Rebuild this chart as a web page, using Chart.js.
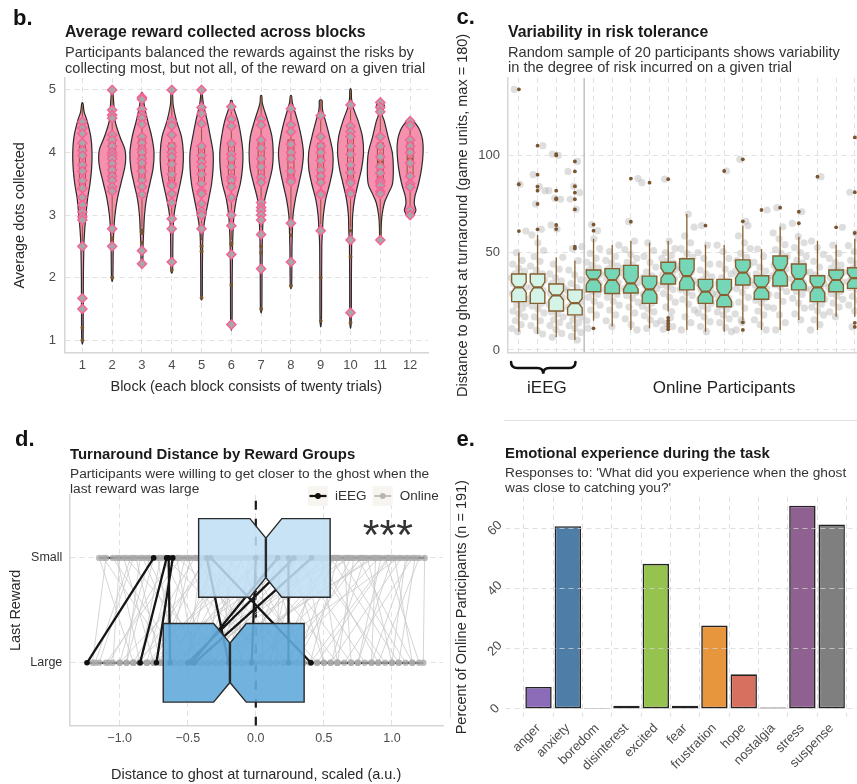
<!DOCTYPE html>
<html><head><meta charset="utf-8">
<script src="https://cdn.jsdelivr.net/npm/chart.js@4.4.1/dist/chart.umd.min.js"></script>
<style>
html,body{margin:0;padding:0;background:#fff;}
body{width:857px;height:784px;overflow:hidden;position:relative;font-family:"Liberation Sans",Arial,Helvetica,sans-serif;}
canvas{position:absolute;}
.t{position:absolute;white-space:nowrap;}
.lt{font-weight:bold;font-size:22px;line-height:22px;color:#111;}
.ti{font-weight:bold;font-size:15.8px;line-height:18px;color:#1a1a1a;}
.st{font-size:14.6px;line-height:15.7px;color:#333;}
.ti2{font-weight:bold;font-size:14.9px;line-height:18px;color:#1a1a1a;}
.st2{font-size:13.7px;line-height:15.2px;color:#333;}
</style></head><body>
<canvas id="cb" width="440" height="400" style="left:0;top:0"></canvas>
<canvas id="cc" width="420" height="400" style="left:450px;top:0"></canvas>
<canvas id="cd" width="450" height="364" style="left:0;top:420px"></canvas>
<canvas id="ce" width="425" height="364" style="left:450px;top:420px"></canvas>

<div class="t lt" style="left:13px;top:7.4px">b.</div>
<div class="t ti" style="left:65px;top:23.2px">Average reward collected across blocks</div>
<div class="t st" style="left:65px;top:45.2px">Participants balanced the rewards against the risks by<br>collecting most, but not all, of the reward on a given trial</div>

<div class="t lt" style="left:456.5px;top:6.4px">c.</div>
<div class="t ti" style="left:508px;top:23.2px">Variability in risk tolerance</div>
<div class="t st" style="left:508px;top:44.6px">Random sample of 20 participants shows variability<br>in the degree of risk incurred on a given trial</div>

<div class="t lt" style="left:15px;top:428.1px">d.</div>
<div class="t ti2" style="left:70px;top:444.8px">Turnaround Distance by Reward Groups</div>
<div class="t st2" style="left:70px;top:466px">Participants were willing to get closer to the ghost when the<br>last reward was large</div>

<div class="t lt" style="left:456.5px;top:428.1px">e.</div>
<div class="t ti2" style="left:505px;top:443.5px">Emotional experience during the task</div>
<div class="t st2" style="left:505px;top:465px">Responses to: 'What did you experience when the ghost<br>was close to catching you?'</div>

<script>
// ======================= DATA =======================
// ---- Panel b: average dots collected per block ----
const B_BLOCKS = [1,2,3,4,5,6,7,8,9,10,11,12];
const B_YTICKS = [1,2,3,4,5];
const B_Q1  = [3.45,3.55,3.55,3.55,3.5,3.5,3.55,3.6,3.55,3.55,3.5,3.6];
const B_MED = [3.83,3.9,3.95,3.87,3.83,3.87,3.93,3.96,3.9,4.0,3.85,3.9];
const B_Q3  = [4.1,4.15,4.2,4.15,4.1,4.15,4.2,4.2,4.15,4.25,4.15,4.15];
const B_LO  = [2.5,2.8,2.8,2.75,2.6,2.6,2.8,2.75,2.85,2.8,2.6,3.0];
const B_HI  = [4.75,5.0,4.95,5.0,5.0,4.83,4.9,4.9,4.83,5.0,4.8,4.5];
const B_OUT = [[1.2,1.0],[2.63,2.58,2.0],[2.76,2.71,2.56],[2.12],[2.5,2.42,1.68],[2.55,2.52,1.88],
               [2.5,2.4,1.5],[2.68,1.87],[2.8,2.0,1.31],[2.75,2.33,1.28],[],[]];
const B_POINTS = [
  [4.49,4.39,4.3,4.15,4.03,3.95,3.8,3.7,3.55,3.43,3.28,3.16,3.05,2.97,2.92,2.5,1.67,1.5],
  [5.0,4.68,4.6,4.55,4.28,4.2,4.1,4.0,3.95,3.9,3.82,3.72,3.62,3.55,3.45,3.38,2.78,2.5],
  [4.88,4.85,4.69,4.6,4.55,4.45,4.25,4.15,4.05,4.0,3.9,3.83,3.7,3.55,3.45,3.33,2.43,2.22],
  [5.0,4.5,4.43,4.28,4.1,4.0,3.93,3.81,3.65,3.5,3.47,3.34,3.2,2.94,2.78,2.25],
  [5.0,4.72,4.62,4.46,4.1,3.95,3.85,3.77,3.65,3.5,3.38,3.34,3.18,3.06,3.0,2.78],
  [4.73,4.53,4.42,4.14,3.97,3.9,3.77,3.6,3.55,3.45,3.28,3.0,2.83,2.37,1.25],
  [4.53,4.44,4.2,4.07,3.9,3.77,3.6,3.52,3.2,3.12,3.07,3.0,2.92,2.69,2.14],
  [4.7,4.44,4.33,4.13,4.0,3.9,3.7,3.57,3.53,2.87,2.25],
  [4.59,4.25,4.1,4.0,3.87,3.72,3.62,3.52,3.35,3.33,2.75],
  [4.76,4.42,4.33,4.25,4.1,3.97,3.8,3.68,3.55,3.51,3.38,3.34,2.6,1.44],
  [4.8,4.72,4.65,4.25,4.1,3.93,3.77,3.67,3.55,3.52,3.47,3.38,3.34,2.6],
  [4.5,4.43,4.2,4.1,4.0,3.83,3.62,3.5,3.45,3.08,3.0]
];
// violin density profiles: [value, relative density]
const B_VIOLIN = [
  [[1.0,0.02],[1.5,0.035],[2.0,0.045],[2.5,0.08],[2.75,0.14],[3.0,0.24],[3.25,0.35],[3.5,0.54],[3.75,0.66],[4.0,0.69],[4.25,0.6],[4.5,0.33],[4.65,0.1],[4.78,0.02]],
  [[2.0,0.02],[2.5,0.05],[2.75,0.09],[3.0,0.18],[3.25,0.35],[3.5,0.62],[3.75,0.9],[3.9,0.98],[4.05,0.92],[4.25,0.55],[4.5,0.19],[4.75,0.1],[4.9,0.05],[5.0,0.02]],
  [[2.22,0.03],[2.5,0.05],[2.75,0.1],[3.0,0.16],[3.25,0.3],[3.5,0.56],[3.75,0.8],[4.0,0.87],[4.25,0.7],[4.5,0.4],[4.7,0.19],[4.85,0.08],[4.95,0.02]],
  [[2.12,0.03],[2.5,0.05],[2.75,0.07],[3.0,0.14],[3.25,0.34],[3.5,0.6],[3.75,0.8],[4.0,0.83],[4.25,0.7],[4.5,0.33],[4.75,0.08],[4.9,0.04],[5.0,0.02]],
  [[1.68,0.02],[2.0,0.03],[2.5,0.05],[2.75,0.1],[3.0,0.27],[3.25,0.5],[3.5,0.72],[3.75,0.83],[4.0,0.83],[4.25,0.63],[4.5,0.4],[4.75,0.13],[4.9,0.04],[5.0,0.02]],
  [[1.25,0.02],[2.0,0.035],[2.5,0.06],[2.75,0.1],[3.0,0.17],[3.25,0.34],[3.5,0.64],[3.75,0.8],[4.0,0.83],[4.25,0.7],[4.5,0.47],[4.7,0.17],[4.8,0.05],[4.83,0.02]],
  [[1.5,0.02],[2.0,0.035],[2.5,0.05],[2.75,0.08],[3.0,0.13],[3.25,0.24],[3.5,0.53],[3.75,0.8],[4.0,0.87],[4.25,0.78],[4.5,0.47],[4.7,0.17],[4.8,0.05],[4.9,0.02]],
  [[1.87,0.02],[2.25,0.04],[2.5,0.05],[2.75,0.08],[3.0,0.13],[3.25,0.3],[3.5,0.56],[3.75,0.8],[4.0,0.9],[4.25,0.74],[4.5,0.47],[4.7,0.2],[4.8,0.07],[4.9,0.02]],
  [[1.3,0.02],[2.0,0.035],[2.5,0.05],[2.75,0.1],[3.0,0.17],[3.25,0.34],[3.5,0.64],[3.75,0.87],[4.0,0.87],[4.25,0.63],[4.5,0.33],[4.65,0.13],[4.75,0.08],[4.83,0.07]],
  [[1.28,0.02],[2.0,0.035],[2.5,0.05],[2.75,0.1],[3.0,0.13],[3.25,0.27],[3.5,0.53],[3.75,0.8],[4.0,0.94],[4.25,0.86],[4.5,0.54],[4.7,0.2],[4.85,0.05],[5.0,0.02]],
  [[2.6,0.02],[2.8,0.035],[3.0,0.1],[3.2,0.28],[3.35,0.58],[3.5,0.88],[3.75,0.94],[4.0,0.86],[4.25,0.55],[4.5,0.27],[4.6,0.11],[4.68,0.18],[4.75,0.27],[4.8,0.1]],
  [[2.99,0.05],[3.02,0.28],[3.08,0.4],[3.18,0.28],[3.3,0.33],[3.5,0.6],[3.75,0.83],[4.0,0.94],[4.2,0.9],[4.35,0.7],[4.45,0.43],[4.52,0.1]]
];
const B_XTITLE = 'Block (each block consists of twenty trials)';
const B_YTITLE = 'Average dots collected';

// ---- Panel c: turnaround distance for sampled participants ----
const C_PART = [1,2,3,4,5,6,7,8,9,10,11,12,13,14,15,16,17,18,19];
const C_YTICKS = [0,50,100];
const C_GROUP_NAMES = ['iEEG','Online Participants'];
const C_GROUP_FROM = [1,5];
const C_GROUP_TO = [4,19];
const C_Q1  = [24.8,23.9,20,18,29.9,29,29.2,23.9,33.8,30.8,23.9,22.2,33.3,26,32.8,30.8,24.8,29.9,31.6];
const C_MED = [32.1,32.1,28,24,36.2,35.9,34.2,31.1,39.3,37.9,29.9,28.2,39.7,32.1,41,36.4,32.1,35.9,36.8];
const C_Q3  = [39,39,33.8,30.8,41,41.7,43.4,37.9,45,46.8,36.2,36.2,46.2,38.1,48.2,44.1,38.1,41,42.2];
const C_LO  = [9.4,8.2,6.5,5.1,15,12,10.3,11.1,19.7,10.3,9.4,9.4,15.4,10.3,10.3,15.4,10.3,17.1,17];
const C_HI  = [49.9,59,47.5,45.8,57,53.8,55.9,55,55.9,69.7,53.8,53.8,63.8,51.8,63.2,58.1,55.9,53.8,57];
const C_NOTCH = [2.6,2.7,2.4,2.4,2.6,2.8,3.0,2.8,2.6,3.2,2.8,3.0,2.9,2.6,3.2,2.9,2.8,2.6,2.6];
const C_OUT = [
  [61,85,133.7],[61.9,74.9,81.7,83.8,89.9,104.8],[62,64.1,77.3,77.8,81.7,99.8,100.5],[52.1,53,72.1,77.3,80.7,84,91.6,96.7],
  [11.1,61.2,64.3],[],[65.8,87.9],[85.8],[10.6,12,13.5,15,16.5,87.6],[],[63.8],[91.8],[14.2,10.3,66,97.8],
  [71.8],[73],[65,70.9],[88.9],[62.9],[11.8,13.9,60,80.9,109]
];
const C_VALUES = [
  [9.4,11,13,15,17,18.5,20,21.5,23,24,25,26,27,28,29,30,31,32,33,34,35,36,37,38,39,40.5,42,44,46,49.9],
  [8.2,10,12.5,15,17,19,21,22.5,24,25,26.5,28,29,30.5,31.5,32.5,33.5,35,36,37,38,39,41,43,45.5,48,51,55,59],
  [6.5,8.5,10.5,12.5,14,15.5,17,18.5,19.5,21,22,23.5,25,26,27,28,29,30,31,32,33,34,35.5,37,39,41.5,44,47.5],
  [5.1,7,9,11,12.5,14,15.5,17,18,19,20,21,22,23,24,25,26,27,28,29.5,30.5,32,34,36,38.5,41,45.8],
  [15,18,20.5,23,25,27,28.5,30,31,32,33,34,35,36,37,38,39,40,41,42,43.5,45,47,49.5,52,57],
  [12,15,18,20.5,23,25,27,28.5,30,31,32,33.5,34.5,35.5,36.5,37.5,38.5,39.5,40.5,41.5,43,44.5,46,48,50.5,53.8],
  [10.3,13,16,19,22,24.5,26.5,28,29.5,30.5,31.5,32.5,33.5,34.5,36,37.5,39,40.5,42,43.5,45,47,49,51.5,55.9],
  [11.1,13.5,15.5,17.5,19.5,21,22.5,24,25,26.5,27.5,28.5,29.5,30.5,31.5,32.5,33.5,34.5,35.5,37,38,40,42.5,45,48,51,55],
  [19.7,22,24.5,27,29,31,32.5,33.5,34.5,35.5,36.5,37.5,38.5,39.5,40.5,41.5,42.5,43.5,44.5,45.5,47,48.5,50,52,55.9],
  [10.3,14,17,20.5,23.5,26,28,29.5,31,32.5,34,35.5,37,38.5,40,41.5,43,44.5,46,47.5,49.5,52,55,58.5,63,69.7],
  [9.4,12,14.5,17,19,21,22.5,24,25,26,27,28,29,30,31,32,33,34,35,36,37.5,39,41,44,47,50,53.8],
  [9.4,11.5,14,16,18,19.5,21,22.5,23.5,24.5,25.5,26.5,27.5,28.5,29.5,30.5,31.5,33,34,35.5,37,39,41.5,44,47,50.5,53.8],
  [15.4,18.5,21.5,24.5,27,29.5,31.5,33,34.5,35.5,36.5,37.5,38.5,39.5,40.5,41.5,42.5,43.5,45,46,47.5,49.5,52,55,58.5,63.8],
  [10.3,13,15.5,18,20,22,24,25.5,26.5,27.5,28.5,29.5,30.5,31.5,32.5,33.5,34.5,35.5,36.5,37.5,39,40.5,42.5,45,48,51.8],
  [10.3,14,18,21.5,25,28,30,32,33.5,35,36.5,38,39.5,40.5,41.5,42.5,43.5,45,46.5,48,49.5,51.5,54,57,60,63.2],
  [15.4,18.5,21.5,24,26.5,28.5,30,31.5,32.5,33.5,34.5,35.5,36.5,37.5,38.5,40,41.5,43,44.5,46,48,50,52.5,55,58.1],
  [10.3,13,15.5,18,20,22,23.5,25,26,27,28,29,30,31,32,33,34,35,36,37,38.5,40,42.5,45.5,49,52.5,55.9],
  [17.1,19.5,22,24,26,27.5,29,30,31,32,33,34,35,36,37,38,39,40,41,42,43.5,45,47,49.5,53.8],
  [17,20,23,25.5,27.5,29.5,31,32,33,34,35,36,37,38,39,40,41,42,43,44.5,46,48,50.5,53.5,57]
];
const C_YTITLE = 'Distance to ghost at turnaround (game units, max = 180)';

// ---- Panel d: turnaround distance by last reward ----
const D_YTICKS = [1,2];
const D_YLABELS = ['Large','Small'];
const D_XTICKS = [-1,-0.5,0,0.5,1];
const D_XLABELS = ['\u22121.0','\u22120.5','0.0','0.5','1.0'];
const D_GROUP_Y = [2,1];           // Small, Large
const D_Q1 = [-0.42,-0.68];
const D_MED = [0.074,-0.19];
const D_Q3 = [0.546,0.355];
const D_NOTCH = [0.117,0.12];
const D_LO = [-1.15,-1.24];
const D_HI = [1.24,1.23];
const D_ON_SMALL = [-1.15,-1.1,-1.05,-1.0,-0.95,-0.9,-0.88,-0.85,-0.8,-0.78,-0.72,-0.7,-0.66,-0.6,-0.58,-0.55,-0.5,-0.48,-0.45,-0.42,
  -0.4,-0.38,-0.35,-0.3,-0.28,-0.25,-0.22,-0.2,-0.18,-0.15,-0.12,-0.1,-0.08,-0.05,-0.02,0.0,0.02,0.05,0.07,0.08,
  0.1,0.12,0.15,0.18,0.2,0.22,0.25,0.28,0.3,0.33,0.35,0.38,0.4,0.43,0.45,0.48,0.5,0.53,0.55,0.58,
  0.6,0.65,0.68,0.7,0.75,0.78,0.8,0.85,0.88,0.9,0.95,0.98,1.0,1.05,1.1,1.15,1.2,1.24,
  -1.12,-1.02,-0.92,-0.83,-0.75,-0.68,-0.62,-0.52,-0.44,-0.36,-0.32,-0.26,-0.16,-0.06,0.03,0.09,0.14,0.21,0.27,0.32,
  0.37,0.42,0.47,0.52,0.57,0.62,0.67,0.72,0.77,0.82,0.87,0.92,0.97,1.02,1.07,1.12,1.17,-0.97,-0.57,0.6];
const D_ON_LARGE = [-0.9,-1.2,-0.55,-1.05,-0.3,-1.15,-0.7,-0.95,-0.4,-1.0,-0.6,-0.85,0.1,-0.8,-0.45,-1.1,-0.2,-0.65,-0.9,0.3,
  -0.5,-0.75,-0.1,-0.6,-1.0,-0.35,0.45,-0.7,-0.25,-0.55,0.2,-0.4,-0.8,-0.15,0.6,-0.3,-0.62,0.05,-0.45,-0.9,
  0.35,-0.2,-0.5,0.15,-0.75,-0.05,0.5,-0.35,0.8,-0.6,0.1,-0.15,0.95,-0.4,0.25,0.6,-0.25,0.15,1.05,-0.1,
  0.4,0.7,-0.5,0.3,1.15,0.0,0.55,-0.3,0.85,0.2,1.2,0.45,0.75,-0.05,1.0,0.65,0.9,1.23,
  -0.6,-0.85,-1.18,-0.5,-0.95,-0.3,-1.08,-0.7,0.05,-0.85,-0.5,-0.1,-0.65,0.35,-0.55,-0.25,0.7,-0.4,0.1,-0.8,
  0.5,-0.2,0.9,-0.45,0.3,1.1,-0.15,0.6,0.2,1.0,-0.35,0.75,0.4,1.15,0.55,0.85,1.05,-0.75,0.25,-0.65];
const D_IEEG_SMALL = [-0.75,-0.655,-0.61,-0.64,-0.36,0.0,0.16,0.41,0.28,0.24,-0.33];
const D_IEEG_LARGE = [-1.24,-0.85,-0.73,-0.63,-0.2,-0.03,-0.47,-0.45,-0.5,0.24,0.405];
const D_LEGEND = ['iEEG','Online'];
const D_STARS = '***';
const D_XTITLE = 'Distance to ghost at turnaround, scaled (a.u.)';
const D_YTITLE = 'Last Reward';

// ---- Panel e: emotions ----
const E_EMOTIONS = ['anger','anxiety','boredom','disinterest','excited','fear','frustration','hope','nostalgia','stress','suspense'];
const E_PERCENT = [7.3,60.7,0.3,1.05,48.2,1.05,27.7,11.5,0.52,67.5,61.3];
const E_YTICKS = [0,20,40,60];
const E_YTITLE = 'Percent of Online Participants (n = 191)';

// ======================= STYLE HELPERS =======================
const FONT = '"Liberation Sans", Arial, Helvetica, sans-serif';
Chart.defaults.font.family = FONT;
Chart.defaults.animation = false;
const TICKC = '#4d4d4d', TITLEC = '#2a2a2a';
const grid = (extra) => Object.assign({color:'#e1e1e1', lineWidth:1, drawTicks:false}, extra||{});
const border = () => ({display:true, color:'#d6d6d6', width:1.5, dash:[5,4]});
const setTicks = (vals) => (s) => { s.ticks = vals.map(v => ({value:v})); };
const axTitle = (text, pad) => ({display:true, text, color:TITLEC, font:{family:FONT, size:14.5}, padding:pad});
const baseOpts = () => ({responsive:false, animation:false, events:[], plugins:{legend:{display:false}, tooltip:{enabled:false}}});

function catmullClosed(ctx, pts){
  const n = pts.length;
  ctx.moveTo(pts[0][0], pts[0][1]);
  for (let i=0;i<n;i++){
    const p0=pts[(i-1+n)%n], p1=pts[i], p2=pts[(i+1)%n], p3=pts[(i+2)%n];
    ctx.bezierCurveTo(p1[0]+(p2[0]-p0[0])/6, p1[1]+(p2[1]-p0[1])/6,
                      p2[0]-(p3[0]-p1[0])/6, p2[1]-(p3[1]-p1[1])/6, p2[0], p2[1]);
  }
  ctx.closePath();
}

// ======================= PANEL B =======================
const bPlugin = {
  id:'violins',
  beforeDatasetsDraw(chart){
    const {ctx, chartArea:a, scales:{x, y}} = chart;
    const unit = x.getPixelForValue(2) - x.getPixelForValue(1);
    ctx.save();
    ctx.beginPath(); ctx.rect(a.left, a.top, a.width, a.height); ctx.clip();
    B_BLOCKS.forEach((b, k) => {
      const cx = x.getPixelForValue(b);
      const prof = B_VIOLIN[k];
      const right = prof.map(([v,w]) => [cx + w*0.45*unit + 0.4, y.getPixelForValue(v)]);
      const left = prof.slice().reverse().map(([v,w]) => [cx - w*0.45*unit - 0.4, y.getPixelForValue(v)]);
      ctx.beginPath();
      catmullClosed(ctx, right.concat(left));
      ctx.fillStyle = '#f590ae'; ctx.fill();
      ctx.lineWidth = 1.2; ctx.strokeStyle = '#2b2b2b'; ctx.stroke();
      const bw = 0.1*unit;
      const yq1 = y.getPixelForValue(B_Q1[k]), yq3 = y.getPixelForValue(B_Q3[k]), ym = y.getPixelForValue(B_MED[k]);
      ctx.strokeStyle = '#8a5a2e'; ctx.lineWidth = 1;
      ctx.beginPath();
      ctx.moveTo(cx, yq1); ctx.lineTo(cx, y.getPixelForValue(B_LO[k]));
      ctx.moveTo(cx, yq3); ctx.lineTo(cx, y.getPixelForValue(B_HI[k]));
      ctx.stroke();
      ctx.strokeRect(cx-bw, yq3, 2*bw, yq1-yq3);
      ctx.lineWidth = 2; ctx.beginPath(); ctx.moveTo(cx-bw, ym); ctx.lineTo(cx+bw, ym); ctx.stroke();
    });
    ctx.restore();
  }
};
const bDiamonds = [], bOut = [];
B_BLOCKS.forEach((b,k) => {
  B_POINTS[k].forEach(v => bDiamonds.push({x:b, y:v}));
  B_OUT[k].forEach(v => bOut.push({x:b, y:v}));
});
new Chart(document.getElementById('cb'), {
  type:'scatter',
  data:{datasets:[
    {data:bDiamonds, pointStyle:'rectRot', pointRadius:4.6, backgroundColor:'#a8a8a8', borderColor:'#fa5f96', borderWidth:1.4},
    {data:bOut, pointRadius:1.9, backgroundColor:'#7a5530', borderWidth:0}
  ]},
  options:Object.assign(baseOpts(), {
    layout:{padding:{left:6, right:12, top:78, bottom:0}},
    scales:{
      x:{type:'linear', min:0.4, max:12.6, afterBuildTicks:setTicks(B_BLOCKS), afterFit:s=>{s.height=47.3;},
         grid:grid(), border:border(),
         ticks:{padding:4.5, color:TICKC, font:{size:13}, autoSkip:false, maxRotation:0, callback:v=>String(v)},
         title:axTitle(B_XTITLE, {top:0, bottom:4.6})},
      y:{type:'linear', min:0.8, max:5.19, afterBuildTicks:setTicks(B_YTICKS), afterFit:s=>{s.width=58.5;},
         grid:grid(), border:border(),
         ticks:{padding:8.5, color:TICKC, font:{size:13}, callback:v=>String(v)},
         title:axTitle(B_YTITLE, {top:5.3, bottom:0})}
    }
  }),
  plugins:[bPlugin]
});

// ======================= PANEL C =======================
function notchedV(ctx, x, y, cx, hw, q1, med, q3, notch){
  const X0=x.getPixelForValue(cx-hw), X1=x.getPixelForValue(cx+hw);
  const M0=x.getPixelForValue(cx-hw/2), M1=x.getPixelForValue(cx+hw/2);
  const Y1=y.getPixelForValue(q1), Y3=y.getPixelForValue(q3), Ym=y.getPixelForValue(med);
  const Na=y.getPixelForValue(med+notch), Nb=y.getPixelForValue(med-notch);
  ctx.beginPath();
  ctx.moveTo(X0,Y3); ctx.lineTo(X1,Y3); ctx.lineTo(X1,Na); ctx.lineTo(M1,Ym); ctx.lineTo(X1,Nb);
  ctx.lineTo(X1,Y1); ctx.lineTo(X0,Y1); ctx.lineTo(X0,Nb); ctx.lineTo(M0,Ym); ctx.lineTo(X0,Na); ctx.closePath();
  return [M0, M1, Ym];
}
const cPlugin = {
  id:'cboxes',
  afterDatasetDraw(chart, args){
    if (args.index !== 1) return;
    const {ctx, chartArea:a, scales:{x, y}} = chart;
    ctx.save();
    ctx.beginPath(); ctx.rect(a.left, a.top, a.width, a.height); ctx.clip();
    const sx = x.getPixelForValue((C_GROUP_TO[0] + C_GROUP_FROM[1]) / 2);
    ctx.strokeStyle = '#c4c4c4'; ctx.lineWidth = 1.6;
    ctx.beginPath(); ctx.moveTo(sx, a.top); ctx.lineTo(sx, a.bottom); ctx.stroke();
    C_PART.forEach((p, i) => {
      const cx = x.getPixelForValue(p);
      ctx.strokeStyle = '#86602f'; ctx.lineWidth = 1.3;
      ctx.beginPath();
      ctx.moveTo(cx, y.getPixelForValue(C_Q3[i])); ctx.lineTo(cx, y.getPixelForValue(C_HI[i]));
      ctx.moveTo(cx, y.getPixelForValue(C_Q1[i])); ctx.lineTo(cx, y.getPixelForValue(C_LO[i]));
      ctx.stroke();
      const m = notchedV(ctx, x, y, p, 0.39, C_Q1[i], C_MED[i], C_Q3[i], C_NOTCH[i]);
      ctx.fillStyle = p <= C_GROUP_TO[0] ? '#d4f4e7' : '#76d6b8';
      ctx.fill(); ctx.lineWidth = 1.4; ctx.stroke();
      ctx.lineWidth = 2.2; ctx.beginPath(); ctx.moveTo(m[0], m[2]); ctx.lineTo(m[1], m[2]); ctx.stroke();
    });
    ctx.restore();
  },
  afterDraw(chart){
    const {ctx, chartArea:a, scales:{x}} = chart;
    ctx.save();
    const x0 = x.getPixelForValue(C_GROUP_FROM[0] - 0.42), x1 = x.getPixelForValue(C_GROUP_TO[0] + 0.03);
    const xm = (x0 + x1) / 2, yt = a.bottom + 9.3, yb = a.bottom + 15.3, yp = a.bottom + 21, r = 6;
    ctx.strokeStyle = '#111'; ctx.lineWidth = 2.6; ctx.lineCap = 'round';
    ctx.beginPath();
    ctx.moveTo(x0, yt); ctx.quadraticCurveTo(x0, yb, x0 + r, yb); ctx.lineTo(xm - r, yb);
    ctx.quadraticCurveTo(xm, yb, xm, yp); ctx.quadraticCurveTo(xm, yb, xm + r, yb);
    ctx.lineTo(x1 - r, yb); ctx.quadraticCurveTo(x1, yb, x1, yt);
    ctx.stroke();
    ctx.fillStyle = '#1e1e1e'; ctx.font = '17px ' + FONT; ctx.textAlign = 'center'; ctx.textBaseline = 'middle';
    C_GROUP_NAMES.forEach((n, i) => {
      ctx.fillText(n, x.getPixelForValue((C_GROUP_FROM[i] + C_GROUP_TO[i]) / 2), a.bottom + 35.6);
    });
    ctx.restore();
  }
};
const cOut = [], cGray = [];
const jit = (p, i) => ((((i * 0.6180339) + p * 0.4142) % 1) - 0.5) * 0.82;
C_PART.forEach((p, k) => {
  C_OUT[k].forEach(v => cOut.push({x:p, y:v}));
  C_VALUES[k].concat(C_OUT[k]).forEach((v, i) => cGray.push({x:p + jit(p, i), y:v}));
});
new Chart(document.getElementById('cc'), {
  type:'scatter',
  data:{datasets:[
    {data:cOut, pointRadius:1.9, backgroundColor:'#7a5530', borderWidth:0},
    {data:cGray, pointRadius:3.6, backgroundColor:'rgba(190,190,190,0.5)', borderWidth:0}
  ]},
  options:Object.assign(baseOpts(), {
    layout:{padding:{left:0, right:2.25, top:78, bottom:0}},
    scales:{
      x:{type:'linear', min:0.4, max:19.6, afterBuildTicks:setTicks(C_PART), afterFit:s=>{s.height=47.3;},
         grid:grid(), border:border(), ticks:{display:false}},
      y:{type:'linear', min:-1.4, max:139.5, afterBuildTicks:setTicks(C_YTICKS), afterFit:s=>{s.width=57.7;},
         grid:grid(), border:border(),
         ticks:{padding:7.7, color:TICKC, font:{size:13}, callback:v=>String(v)},
         title:axTitle(C_YTITLE, {top:4.3, bottom:0})}
    }
  }),
  plugins:[cPlugin]
});

// ======================= PANEL D =======================
function notchedH(ctx, x, y, cy, hh, q1, med, q3, notch){
  const Y0=y.getPixelForValue(cy+hh), Y1=y.getPixelForValue(cy-hh);
  const M0=y.getPixelForValue(cy+hh/2), M1=y.getPixelForValue(cy-hh/2);
  const X1=x.getPixelForValue(q1), X3=x.getPixelForValue(q3), Xm=x.getPixelForValue(med);
  const Na=x.getPixelForValue(med-notch), Nb=x.getPixelForValue(med+notch);
  ctx.beginPath();
  ctx.moveTo(X1,Y0); ctx.lineTo(Na,Y0); ctx.lineTo(Xm,M0); ctx.lineTo(Nb,Y0); ctx.lineTo(X3,Y0);
  ctx.lineTo(X3,Y1); ctx.lineTo(Nb,Y1); ctx.lineTo(Xm,M1); ctx.lineTo(Na,Y1); ctx.lineTo(X1,Y1); ctx.closePath();
  return [Xm, M0, M1];
}
const dPlugin = {
  id:'dboxes',
  beforeDatasetsDraw(chart){
    const {ctx, chartArea:a, scales:{x, y}} = chart;
    ctx.save();
    ctx.beginPath(); ctx.rect(a.left, a.top, a.width, a.height); ctx.clip();
    const zx = x.getPixelForValue(0);
    ctx.strokeStyle = '#1a1a1a'; ctx.lineWidth = 2.2; ctx.setLineDash([9,9]);
    ctx.beginPath(); ctx.moveTo(zx, a.bottom); ctx.lineTo(zx, a.top); ctx.stroke();
    ctx.setLineDash([]);
    D_GROUP_Y.forEach((gy, i) => {
      const py = y.getPixelForValue(gy);
      ctx.strokeStyle = '#1f1f1f'; ctx.lineWidth = 2.3;
      ctx.beginPath(); ctx.moveTo(x.getPixelForValue(D_LO[i]), py); ctx.lineTo(x.getPixelForValue(D_HI[i]), py); ctx.stroke();
    });
    ctx.restore();
  },
  afterDatasetsDraw(chart){
    const {ctx, scales:{x, y}} = chart;
    ctx.save();
    const fills = ['rgba(192,223,244,0.87)', 'rgba(98,170,220,0.9)'];
    D_GROUP_Y.forEach((gy, i) => {
      const m = notchedH(ctx, x, y, gy, 0.375, D_Q1[i], D_MED[i], D_Q3[i], D_NOTCH[i]);
      ctx.fillStyle = fills[i]; ctx.fill();
      ctx.strokeStyle = '#2a2a2a'; ctx.lineWidth = 1.4; ctx.stroke();
      ctx.lineWidth = 2.4; ctx.beginPath(); ctx.moveTo(m[0], m[1]); ctx.lineTo(m[0], m[2]); ctx.stroke();
    });
    ctx.restore();
  },
  afterDraw(chart){
    const {ctx, scales:{x, y}} = chart;
    ctx.save();
    const keys = [[308, '#111', 2.2], [372.7, '#b5b5b5', 1.6]];
    keys.forEach(([kx, col, lw], i) => {
      ctx.fillStyle = '#f8f5f0'; ctx.fillRect(kx, 66, 20, 20);
      ctx.strokeStyle = col; ctx.lineWidth = lw;
      ctx.beginPath(); ctx.moveTo(kx + 1.5, 76); ctx.lineTo(kx + 18.5, 76); ctx.stroke();
      ctx.fillStyle = col; ctx.beginPath(); ctx.arc(kx + 10, 76, 2.9, 0, Math.PI*2); ctx.fill();
      ctx.fillStyle = '#333'; ctx.font = '13.5px ' + FONT; ctx.textAlign = 'left'; ctx.textBaseline = 'middle';
      ctx.fillText(D_LEGEND[i], kx + 27, 76.5);
    });
    ctx.fillStyle = '#333'; ctx.font = '43px ' + FONT; ctx.textAlign = 'center'; ctx.textBaseline = 'alphabetic';
    ctx.fillText(D_STARS, x.getPixelForValue(0.97), y.getPixelForValue(2.32) + 25);
    ctx.restore();
  }
};
const pairs = (sm, lg) => { const out = []; sm.forEach((s, i) => { out.push({x:s, y:2}, {x:lg[i], y:1}, {x:s, y:null}); }); return out; };
const dots = (sm, lg) => sm.map(s => ({x:s, y:2})).concat(lg.map(l => ({x:l, y:1})));
new Chart(document.getElementById('cd'), {
  type:'scatter',
  data:{datasets:[
    {data:dots(D_IEEG_SMALL, D_IEEG_LARGE), pointRadius:2.8, backgroundColor:'#111', borderWidth:0},
    {type:'line', data:pairs(D_IEEG_SMALL, D_IEEG_LARGE), showLine:true, spanGaps:false, borderColor:'#151515', borderWidth:2.3, pointRadius:0},
    {data:dots(D_ON_SMALL, D_ON_LARGE), pointRadius:3.2, backgroundColor:'rgba(170,170,170,0.8)', borderWidth:0},
    {type:'line', data:pairs(D_ON_SMALL, D_ON_LARGE), showLine:true, spanGaps:false, borderColor:'rgba(200,200,200,0.85)', borderWidth:0.9, pointRadius:0}
  ]},
  options:Object.assign(baseOpts(), {
    layout:{padding:{left:4, right:7, top:75, bottom:0}},
    scales:{
      x:{type:'linear', min:-1.37, max:1.375, afterBuildTicks:setTicks(D_XTICKS), afterFit:s=>{s.height=58.3;},
         grid:grid(), border:border(),
         ticks:{padding:5.1, color:TICKC, font:{size:12.5}, autoSkip:false, maxRotation:0, callback:(v)=>D_XLABELS[D_XTICKS.indexOf(v)]},
         title:axTitle(D_XTITLE, {top:0, bottom:0.3})},
      y:{type:'linear', min:0.4, max:2.6, afterBuildTicks:setTicks(D_YTICKS), afterFit:s=>{s.width=65.3;},
         grid:grid(), border:border(),
         ticks:{padding:7, color:'#333', font:{size:12.5}, callback:(v)=>D_YLABELS[D_YTICKS.indexOf(v)]},
         title:axTitle(D_YTITLE, {top:3.3, bottom:0})}
    }
  }),
  plugins:[dPlugin]
});

// ======================= PANEL E =======================
const E_COLORS = ['#8c6bb9','#4e7ea8','#4a2a35','#3d9a6c','#96c34f','#efc23b','#e8963d','#d8705f','#5a2236','#8e6190','#7f7f7f'];
new Chart(document.getElementById('ce'), {
  type:'bar',
  data:{datasets:[{
    data:E_PERCENT.map((v, i) => ({x:i + 1, y:v})),
    backgroundColor:E_COLORS, borderColor:'#222', borderWidth:1.6, borderSkipped:false,
    barPercentage:0.9, categoryPercentage:1
  }]},
  options:Object.assign(baseOpts(), {
    layout:{padding:{left:0, right:9.3, top:76.7, bottom:0}},
    scales:{
      x:{type:'linear', min:0.4, max:11.6, afterBuildTicks:setTicks(E_EMOTIONS.map((e, i) => i + 1)), afterFit:s=>{s.height=66.3;},
         grid:grid({z:1, color:'rgba(212,212,212,0.75)'}), border:border(),
         ticks:{padding:3, color:TICKC, font:{size:13}, autoSkip:false, minRotation:45, maxRotation:45, callback:(v)=>E_EMOTIONS[v - 1]}},
      y:{type:'linear', min:-2.9, max:70.5, afterBuildTicks:setTicks(E_YTICKS), afterFit:s=>{s.width=54.5;},
         grid:grid({z:1, color:'rgba(212,212,212,0.75)'}), border:border(),
         ticks:{padding:2.3, color:TICKC, font:{size:13}, minRotation:45, maxRotation:45, crossAlign:'center', callback:v=>String(v)},
         title:axTitle(E_YTITLE, {top:3, bottom:0})}
    }
  })
});
</script>
</body></html>
